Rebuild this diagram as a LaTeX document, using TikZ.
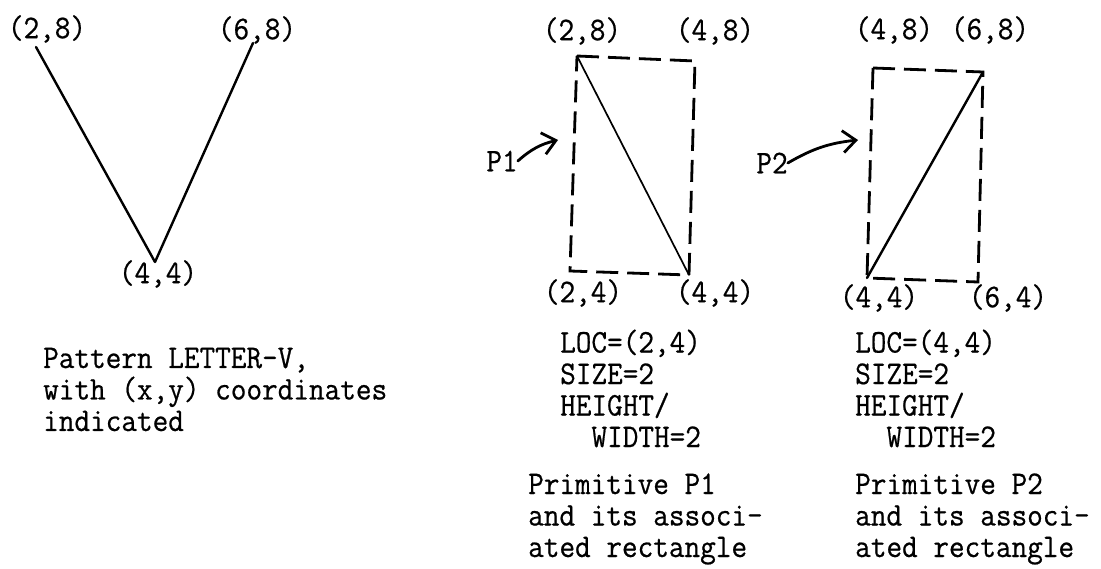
\documentclass[tikz,border=0pt]{standalone}
\usepackage{fontspec}
\setmonofont[FakeStretch=0.92, FakeBold=0.6]{Latin Modern Mono}
\usepackage{tikz}
\usetikzlibrary{arrows.meta}
\tikzset{
  typed/.style={font=\fontsize{33}{31.5}\selectfont\ttfamily, inner sep=0pt},
  typed block/.style={typed, align=left, anchor=base west},
  stroke line/.style={line width=2.4pt, line cap=round, line join=round},
  thin stroke/.style={line width=1.7pt, line cap=round},
  box edge/.style={line width=2.8pt, dash pattern=on 22pt off 9pt},
  pointer/.style={-{Straight Barb[length=13pt, width=22pt]}, line width=2.8pt, line cap=round},
}

\begin{document}
\begin{tikzpicture}[x=1pt, y=-1pt]
  \useasboundingbox (0,0) rectangle (1101,569);
  % pattern LETTER-V
  \coordinate (vl) at (36,47); \coordinate (vb) at (155,262); \coordinate (vr) at (253,43);
  \draw[stroke line] (vl) -- (vb) -- (vr);
  \node[typed] (vlLab) at (47,29) {(2,8)};
  \node[typed] (vrLab) at (257,30) {(6,8)};
  \node[typed] (vbLab) at (158,274) {(4,4)};
  % base of a block = last line
  \node[typed block] (vCap) at (43,431) {Pattern LETTER-V,\\with (x,y) coordinates\\indicated};
  % primitive P1
  \coordinate (aTL) at (577,56); \coordinate (aTR) at (695,61);
  \coordinate (aBR) at (689,275); \coordinate (aBL) at (570,271);
  \draw[box edge] (aTL) -- (aTR) -- (aBR) -- (aBL) -- cycle;
  \draw[thin stroke] (aTL) -- (aBR);
  \node[typed] (aTLLab) at (582,31) {(2,8)};
  \node[typed] (aTRLab) at (715,31) {(4,8)};
  \node[typed] (aBLLab) at (583,293) {(2,4)};
  \node[typed] (aBRLab) at (715,293) {(4,4)};
  \node[typed] (pOne) at (502,161) {P1};
  \coordinate (pOneTip) at (558,140);
  \draw[pointer] (pOne.east) to[bend left=14] (pOneTip);
  \node[typed block] (aInfo) at (560,447) {LOC=(2,4)\\SIZE=2\\HEIGHT/\\\phantom{xx}WIDTH=2};
  \node[typed block] (aCap) at (528,557) {Primitive P1\\and its associ-\\ated rectangle};
  % primitive P2
  \coordinate (bTL) at (873,68); \coordinate (bTR) at (983,72);
  \coordinate (bBR) at (978,282); \coordinate (bBL) at (867,278);
  \draw[box edge] (bTL) -- (bTR) -- (bBR) -- (bBL) -- cycle;
  \draw[stroke line] (bTR) -- (bBL);
  \node[typed] (bTLLab) at (894,30) {(4,8)};
  \node[typed] (bTRLab) at (990,30) {(6,8)};
  \node[typed] (bBLLab) at (879,298) {(4,4)};
  \node[typed] (bBRLab) at (1008,298) {(6,4)};
  \node[typed] (pTwo) at (772,163) {P2};
  \coordinate (pTwoTip) at (858,140);
  \draw[pointer] (pTwo.east) to[bend left=12] (pTwoTip);
  \node[typed block] (bInfo) at (855,447) {LOC=(4,4)\\SIZE=2\\HEIGHT/\\\phantom{xx}WIDTH=2};
  \node[typed block] (bCap) at (855,557) {Primitive P2\\and its associ-\\ated rectangle};
\end{tikzpicture}
\end{document}
